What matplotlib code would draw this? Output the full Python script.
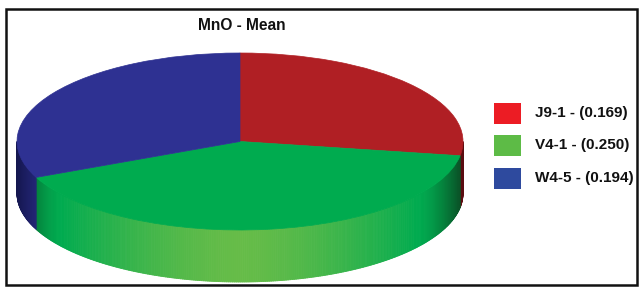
import numpy as np
import matplotlib
matplotlib.use("Agg")
import matplotlib.pyplot as plt
from matplotlib.patches import Wedge, Rectangle
from matplotlib.collections import PolyCollection
from matplotlib.transforms import Affine2D
from matplotlib.colors import to_rgb

title = "MnO - Mean"
labels = ["J9-1", "V4-1", "W4-5"]
values = [0.169, 0.250, 0.194]
top_colors = ["#b01f24", "#00ab4f", "#2e3192"]
key_colors = ["#ec1c24", "#5dbb46", "#2e4a9e"]
side_light = ["#c8262b", "#66bc48", "#343c9a"]
side_dark = ["#5a0c10", "#0b4a24", "#14164e"]

plt.rcParams['font.family'] = ['Liberation Sans', 'DejaVu Sans']

fig = plt.figure(figsize=(6.39, 2.88), dpi=100)
ax = fig.add_axes([0, 0, 1, 1])
ax.set_xlim(0, 639)
ax.set_ylim(288, 0)
ax.axis("off")

# frame
ax.add_patch(Rectangle((6, 9), 631, 276, fill=False, lw=1.8, ec="#111111"))

cx, cy, rx, ry, depth = 240, 141.5, 223, 88.5, 52

fracs = np.array(values) / sum(values)
ends = 90 - 360 * np.cumsum(fracs)
starts = np.concatenate([[90], ends[:-1]])

def mix(c1, c2, w):
    a, b = np.array(to_rgb(c1)), np.array(to_rgb(c2))
    return tuple(a * (1 - w) + b * w)

# side wall (front half only)
quads, cols = [], []
for i in range(len(values)):
    lo, hi = ends[i], starts[i]
    for off in (0, -360, 360):
        a0, a1 = max(lo + off, -180), min(hi + off, 0)
        if a1 <= a0:
            continue
        ts = np.linspace(a0, a1, max(2, int((a1 - a0) * 2) + 1))
        for t1, t2 in zip(ts[:-1], ts[1:]):
            r1, r2 = np.radians(t1), np.radians(t2)
            x1, y1 = cx + rx * np.cos(r1), cy - ry * np.sin(r1)
            x2, y2 = cx + rx * np.cos(r2), cy - ry * np.sin(r2)
            quads.append([(x1, y1), (x2, y2), (x2, y2 + depth), (x1, y1 + depth)])
            u = abs(np.cos((r1 + r2) / 2))
            if u < 0.8:
                c = mix(side_light[i], top_colors[i], (u / 0.8) ** 1.5)
            else:
                c = mix(top_colors[i], side_dark[i], ((u - 0.8) / 0.2) ** 1.5)
            cols.append(c)
ax.add_collection(PolyCollection(quads, facecolors=cols, edgecolors=cols, lw=0.6))

# top face
tr = Affine2D().scale(rx, -ry).translate(cx, cy) + ax.transData
for i in range(len(values)):
    ax.add_patch(Wedge((0, 0), 1, ends[i], starts[i], transform=tr,
                       fc=top_colors[i], ec=top_colors[i], lw=0.5))

ax.text(242, 25, title, ha="center", va="center", fontsize=11.2,
        fontweight="bold", color="#111111")

for i, lab in enumerate(labels):
    y = 113 + i * 32.5
    ax.add_patch(Rectangle((494, y - 10.5), 27, 21, fc=key_colors[i], ec="none"))
    ax.text(535, y, f"{lab} - ({values[i]:.3f})", ha="left", va="center",
            fontsize=11, fontweight="bold", color="#111111")

fig.savefig("out.png", dpi=100)
